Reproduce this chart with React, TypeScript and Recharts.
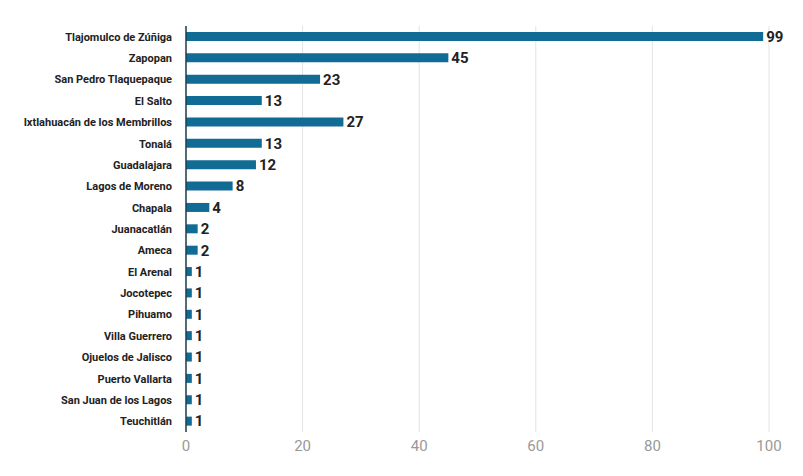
import { BarChart, Bar, XAxis, YAxis, CartesianGrid, LabelList } from "recharts";

const municipios = [
  "Tlajomulco de Zúñiga", "Zapopan", "San Pedro Tlaquepaque", "El Salto",
  "Ixtlahuacán de los Membrillos", "Tonalá", "Guadalajara", "Lagos de Moreno",
  "Chapala", "Juanacatlán", "Ameca", "El Arenal", "Jocotepec", "Pihuamo",
  "Villa Guerrero", "Ojuelos de Jalisco", "Puerto Vallarta", "San Juan de los Lagos", "Teuchitlán",
];
const casos = [99, 45, 23, 13, 27, 13, 12, 8, 4, 2, 2, 1, 1, 1, 1, 1, 1, 1, 1];
const xTicks = [0, 20, 40, 60, 80, 100];

const data = municipios.map((name, i) => ({ name, value: casos[i] }));

const NameTick = ({ x, y, payload }: any) => (
  <text
    x={x - 6}
    y={y}
    dy={4}
    textAnchor="end"
    fill="#222"
    fontSize={11}
    fontWeight={700}
    fontFamily="Roboto"
  >
    {payload.value}
  </text>
);

export default function App() {
  return (
    <div style={{ position: "absolute", left: 0, top: 0, background: "#fff" }}>
      <BarChart
        width={803}
        height={476}
        data={data}
        layout="vertical"
        margin={{ top: 26, right: 34, bottom: 12, left: 0 }}
      >
        <CartesianGrid horizontal={false} stroke="#e3e3e3" />
        <XAxis
          type="number"
          domain={[0, 100]}
          ticks={xTicks}
          axisLine={false}
          tickLine={false}
          height={32}
          tick={{ fill: "#999", fontSize: 15, fontFamily: "Roboto" }}
        />
        <YAxis
          type="category"
          dataKey="name"
          width={186}
          tickLine={false}
          axisLine={{ stroke: "#1c3f52", strokeWidth: 1.5 }}
          interval={0}
          tick={<NameTick />}
        />
        <Bar dataKey="value" fill="#106b95" barSize={9} isAnimationActive={false}>
          <LabelList
            dataKey="value"
            position="right"
            offset={3}
            style={{ fill: "#222", fontSize: 15, fontWeight: 700, fontFamily: "Roboto" }}
          />
        </Bar>
      </BarChart>
    </div>
  );
}
